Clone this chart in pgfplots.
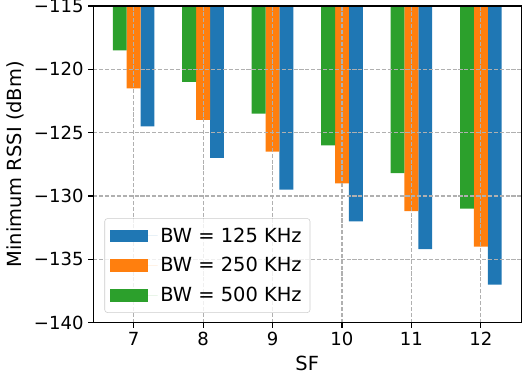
\documentclass[border=0pt]{standalone}
\usepackage{fontspec}
\setmainfont{DejaVu Sans}
\usepackage{pgfplots}
\pgfplotsset{compat=1.18}

\definecolor{tabblue}{HTML}{1F77B4}
\definecolor{taborange}{HTML}{FF7F0E}
\definecolor{tabgreen}{HTML}{2CA02C}
\definecolor{gridgray}{HTML}{B0B0B0}
\definecolor{legendedge}{HTML}{CCCCCC}

\newcommand{\chartfont}{\fontsize{14}{16.8}\selectfont}
\newcommand{\tickfont}{\fontsize{13}{15.6}\selectfont}

\begin{document}
\begin{tikzpicture}
  \begin{axis}[
    name=ax,
    scale only axis,
    width=308pt, height=228pt,
    xmin=6.42, xmax=12.58,
    ymin=-140, ymax=-115,
    xtick={7,8,9,10,11,12},
    xticklabels={7,8,9,10,11,12},
    ytick={-140,-135,-130,-125,-120,-115},
    yticklabels={−140,−135,−130,−125,−120,−115},
    tick pos=left,
    tick align=outside,
    major tick length=3.5pt,
    every tick/.style={black, line width=0.8pt},
    axis line style={line width=0.8pt},
    tick label style={font=\tickfont},
    label style={font=\chartfont},
    xlabel={SF},
    ylabel={Minimum RSSI (dBm)},
    grid=major,
    major grid style={gridgray, line width=0.8pt, dash pattern=on 2.96pt off 1.28pt},
    axis on top,
    ybar,
    bar width=0.2,
    legend style={
      at={(0.026,0.031)}, anchor=south west,
      draw=legendedge, rounded corners=2pt,
      fill=white, fill opacity=0.8, text opacity=1,
      font=\chartfont, row sep=5.5pt,
      inner xsep=4pt, inner ysep=4.5pt,
      nodes={inner sep=2pt},
    },
    legend cell align=left,
    legend image code/.code={
      \fill[#1, sharp corners, fill opacity=1] (0pt,-4.5pt) rectangle (27.4pt,4.5pt);
      \path (0pt,0pt) -- (34pt,0pt);
    },
  ]
    % BW = 125 KHz
    \addplot[fill=tabblue, draw=none, bar shift=0.2] coordinates {
      (7,-124.5) (8,-127) (9,-129.5) (10,-132) (11,-134.2) (12,-137)};
    % BW = 250 KHz
    \addplot[fill=taborange, draw=none, bar shift=0] coordinates {
      (7,-121.5) (8,-124) (9,-126.5) (10,-129) (11,-131.2) (12,-134)};
    % BW = 500 KHz
    \addplot[fill=tabgreen, draw=none, bar shift=-0.2] coordinates {
      (7,-118.5) (8,-121) (9,-123.5) (10,-126) (11,-128.2) (12,-131)};

    \legend{BW = 125 KHz, BW = 250 KHz, BW = 500 KHz}
  \end{axis}
  \pgfresetboundingbox
  \path (ax.south west) ++(-67.2pt,-41.3pt) rectangle ++(381.6pt,273.6pt);
\end{tikzpicture}
\end{document}
